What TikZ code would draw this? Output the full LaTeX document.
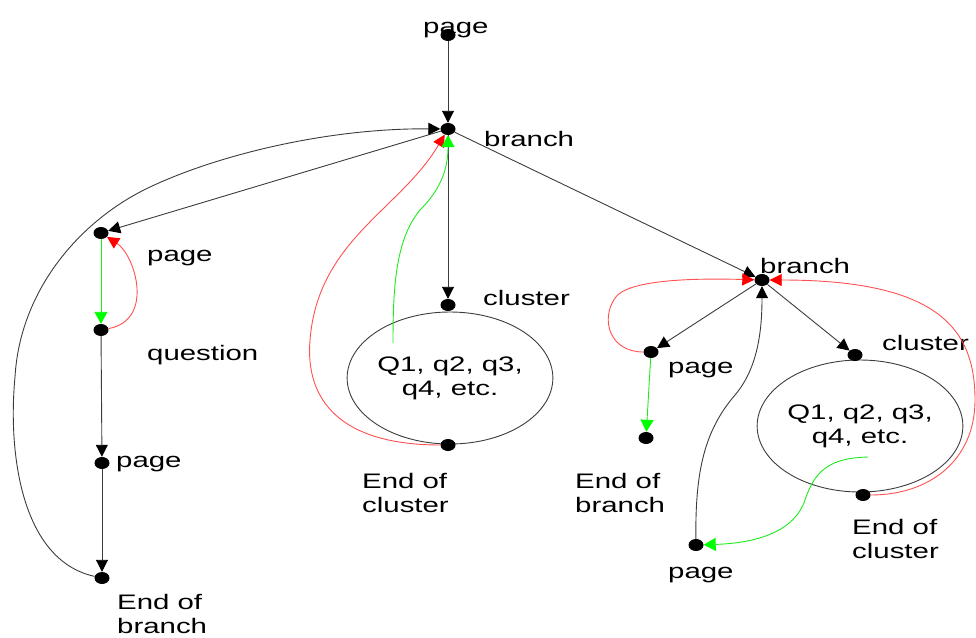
\documentclass[tikz,border=0pt]{standalone}
\usepackage{fontspec}
\setmainfont{Liberation Sans}[FakeStretch=1.4]
\usetikzlibrary{shapes.geometric,arrows.meta}
\definecolor{linegray}{RGB}{60,60,60}
\definecolor{linkred}{RGB}{255,80,80}
\definecolor{linkgreen}{RGB}{30,235,30}
\begin{document}
\begin{tikzpicture}[x=1pt,y=-1pt,
  blob/.style={ellipse,fill=black,minimum width=15pt,minimum height=12pt,inner sep=0pt},
  lbl/.style={anchor=base west,inner sep=0pt,align=left,font=\fontsize{21}{24}\selectfont},
  clusterring/.style={ellipse,draw=linegray,line width=0.9pt,minimum width=196pt,minimum height=132pt,inner sep=0pt,align=center,font=\fontsize{21}{24}\selectfont},
  conn/.style={draw=linegray,line width=0.9pt,-{Triangle[length=12pt,width=12pt,color=black]}},
  redconn/.style={draw=linkred,line width=0.9pt,-{Triangle[length=12pt,width=12pt,color=red]}},
  greenconn/.style={draw=linkgreen,line width=0.9pt,-{Triangle[length=12pt,width=13pt,color=green]}}
]
\useasboundingbox (0,0) rectangle (976,637);

% cluster ellipses
\node[clusterring] (cl1) at (450,378) {Q1, q2, q3,\\q4, etc.};
\node[clusterring] (cl2) at (860,426) {Q1, q2, q3,\\q4, etc.};

% points
\node[blob] (top)  at (448,35)  {};
\node[blob] (br1)  at (448,129) {};
\node[blob] (lp)   at (101,233) {};
\node[blob] (qu)   at (101,330) {};
\node[blob] (lp2)  at (102,463) {};
\node[blob] (eb1)  at (102,578) {};
\node[blob] (c1)   at (448,305) {};
\node[blob] (ec1)  at (448,445) {};
\node[blob] (br2)  at (762,280) {};
\node[blob] (rp)   at (651,352) {};
\node[blob] (eb2)  at (646,438) {};
\node[blob] (c2)   at (855,355) {};
\node[blob] (ec2)  at (863,495) {};
\node[blob] (bp)   at (696,545) {};
\coordinate (g1) at (393,343);
\coordinate (g2) at (868,457);

% labels (two-line labels are placed by the baseline of their last line)
\node[lbl] (ltop) at (423,33)  {page};
\node[lbl] (lbr1) at (484,146) {branch};
\node[lbl] (llp)  at (147,261) {page};
\node[lbl] (lqu)  at (147,360) {question};
\node[lbl] (llp2) at (116,467) {page};
\node[lbl] (leb1) at (117,633) {End of\\branch};
\node[lbl] (lc1)  at (483,305) {cluster};
\node[lbl] (lec1) at (362,512) {End of\\cluster};
\node[lbl] (lbr2) at (760,273) {branch};
\node[lbl] (lrp)  at (668,373) {page};
\node[lbl] (lc2)  at (882,350) {cluster};
\node[lbl] (leb2) at (575,512) {End of\\branch};
\node[lbl] (lec2) at (852,558) {End of\\cluster};
\node[lbl] (lbp)  at (668,578) {page};

% straight links
\draw[conn] (top) -- (br1);
\draw[conn] (br1) -- (lp);
\draw[conn] (br1) -- (c1);
\draw[conn] (br1) -- (br2);
\draw[conn] (qu) -- (lp2);
\draw[conn] (lp2) -- (eb1);
\draw[conn] (br2) -- (rp);
\draw[conn] (br2) -- (c2);
\draw[greenconn] (lp) -- (qu);
\draw[greenconn] (rp) -- (eb2);

% curved links, left branch
\draw[conn] (eb1) .. controls (20,560) and (8,450) .. (15,377)
                  .. controls (20,290) and (80,220) .. (150,187)
                  .. controls (220,154) and (330,128) .. (br1);
\draw[redconn] (qu) .. controls (155,320) and (135,255) .. (lp);
\draw[redconn] (ec1) .. controls (340,445) and (305,400) .. (310,340)
                     .. controls (318,240) and (400,210) .. (br1);
\draw[greenconn] (g1) .. controls (393,290) and (395,240) .. (420,210)
                      .. controls (440,190) and (448,170) .. (br1);

% curved links, right branch
\draw[redconn] (rp) .. controls (610,352) and (600,320) .. (615,298)
                    .. controls (627,280) and (690,278) .. (br2);
\draw[redconn] (ec2) .. controls (930,495) and (975,460) .. (975,400)
                     .. controls (975,330) and (940,280) .. (br2);
\draw[conn] (bp) .. controls (695,470) and (705,430) .. (735,395)
                 .. controls (758,368) and (762,330) .. (br2);
\draw[greenconn] (g2) .. controls (830,458) and (815,470) .. (805,500)
                      .. controls (795,530) and (760,543) .. (bp);
\end{tikzpicture}
\end{document}
